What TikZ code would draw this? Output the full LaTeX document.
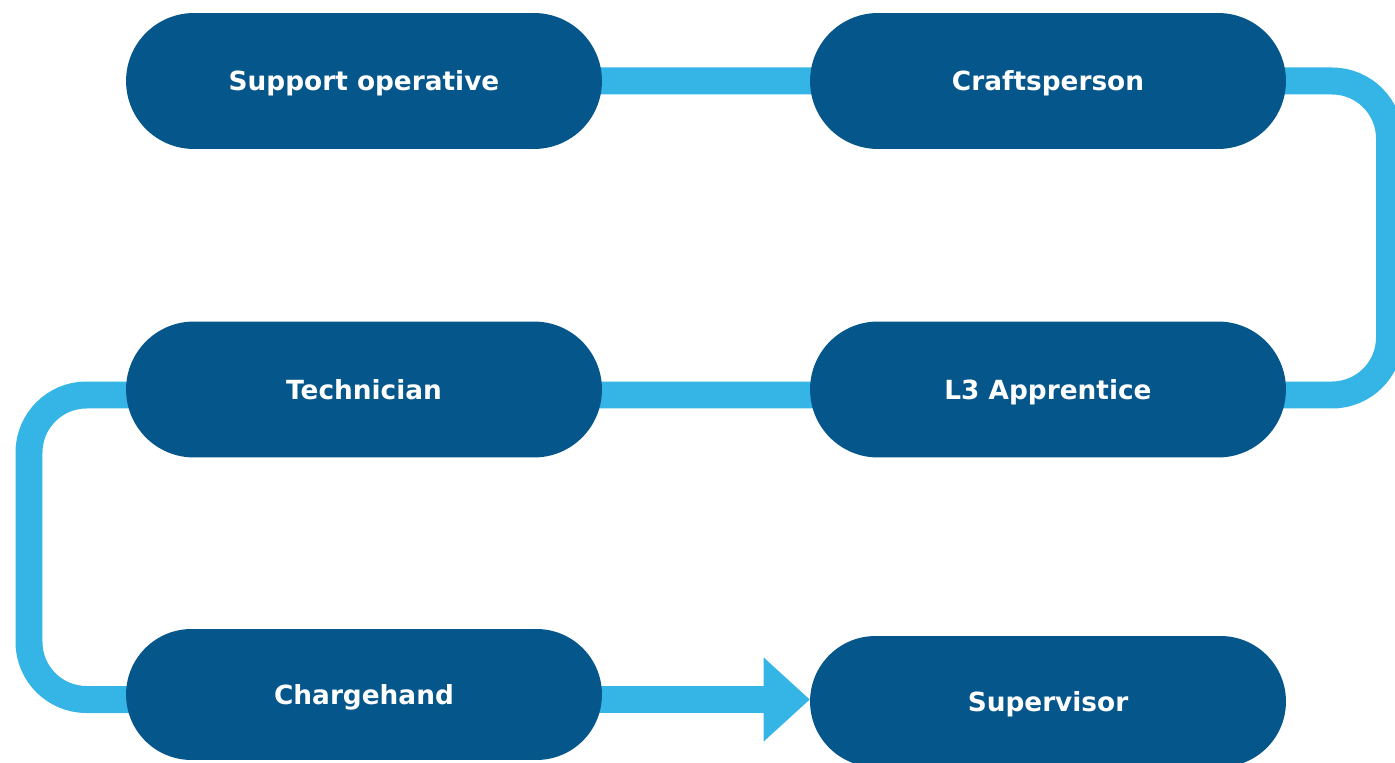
\documentclass[tikz,border=0pt]{standalone}
\usepackage{fontspec}
\setmainfont{DejaVu Sans}
\usetikzlibrary{arrows.meta,backgrounds}
\definecolor{stepblue}{RGB}{5,86,139}
\definecolor{pathblue}{RGB}{52,181,230}

\begin{document}
\begin{tikzpicture}[x=0.02cm, y=-0.02cm,
    role/.style={fill=stepblue, text=white, inner sep=0pt,
        font=\fontsize{15pt}{18pt}\selectfont\bfseries,
        text height=10.9pt, text depth=0pt,
        minimum width=9.52cm, minimum height=2.72cm, rounded corners=1.36cm},
    lowrole/.style={role, minimum height=2.62cm, rounded corners=1.31cm},
    route/.style={draw=pathblue, line width=0.54cm, rounded corners=1.15cm}]

\useasboundingbox (0,0) rectangle (1395,763);

\node[role] (support) at (364,81) {Support operative};
\node[role] (craft) at (1048,81) {Craftsperson};
\node[role] (l3) at (1048,389.5) {L3 Apprentice};
\node[role] (tech) at (364,389.5) {Technician};
\node[lowrole] (charge) at (364,694.5) {Chargehand};
\node[lowrole] (super) at (1048,701.5) {Supervisor};

\coordinate (tail) at ([yshift=-0.1cm]charge.center);

% the route runs behind the boxes
\begin{scope}[on background layer]
    \draw[route] (support.center) -- (craft.center) -| (1389.5,395)
        -- ([yshift=-0.11cm]l3.center) -- ([yshift=-0.11cm]tech.center)
        -| (29,699.5) -- (tail);
    \draw[route, -{Triangle[length=0.92cm, width=1.68cm, line width=0pt]}]
        (tail) -- (super.west |- tail);
\end{scope}
\end{tikzpicture}
\end{document}
